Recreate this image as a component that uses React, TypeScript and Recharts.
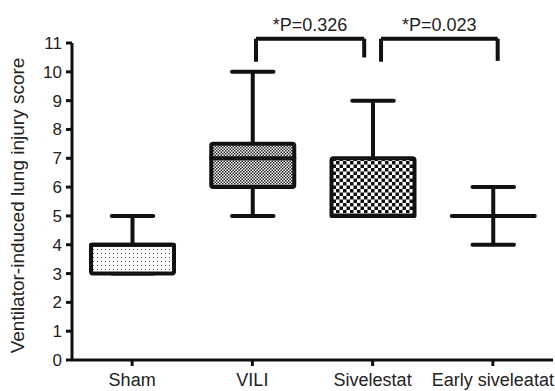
import { ComposedChart, Bar, XAxis, YAxis, ReferenceLine, Label } from 'recharts';

const categories = ['Sham', 'VILI', 'Sivelestat', 'Early siveleatat'];
const minValues = [3, 5, 5, 4];
const q1Values = [3, 6, 5, 5];
const medianValues = [4, 7, 5, 5];
const q3Values = [4, 7.5, 7, 5];
const maxValues = [5, 10, 9, 6];
const fills = ['url(#dots)', 'url(#fineCheck)', 'url(#coarseCheck)', '#fff'];
const yTicks = [0, 1, 2, 3, 4, 5, 6, 7, 8, 9, 10, 11];

// significance brackets, x in category units (0..4), y in score units
const bracketLabels = ['*P=0.326', '*P=0.023'];
const bracketStart = [1.53, 2.57];
const bracketEnd = [2.43, 3.54];
const bracketTop = [11.15, 11.15];
const bracketLeftFoot = [10.35, 10.35];
const bracketRightFoot = [10.5, 10.38];

const data = categories.map((name, i) => ({
  name,
  pos: i + 0.5,
  min: minValues[i],
  q1: q1Values[i],
  median: medianValues[i],
  q3: q3Values[i],
  max: maxValues[i],
  fill: fills[i],
}));

const FONT = '"Liberation Sans", Arial, Helvetica, sans-serif';

const BoxShape = (props: any) => {
  const { x, y, width, height, payload } = props;
  const unit = height / (payload.max - payload.min);
  const toY = (v: number) => y + (payload.max - v) * unit;
  const cx = x + width / 2;
  const capHalf = width * 0.25;
  const yMax = toY(payload.max);
  const yMin = toY(payload.min);
  const yQ3 = toY(payload.q3);
  const yQ1 = toY(payload.q1);
  const yMed = toY(payload.median);
  const sw = 4;
  return (
    <g>
      <line x1={cx} x2={cx} y1={yMax} y2={yQ3} stroke="#111" strokeWidth={sw} />
      <line x1={cx} x2={cx} y1={yQ1} y2={yMin} stroke="#111" strokeWidth={sw} />
      <line x1={cx - capHalf} x2={cx + capHalf} y1={yMax} y2={yMax} stroke="#111" strokeWidth={sw} strokeLinecap="round" />
      <line x1={cx - capHalf} x2={cx + capHalf} y1={yMin} y2={yMin} stroke="#111" strokeWidth={sw} strokeLinecap="round" />
      {yQ1 - yQ3 > 0.5 ? (
        <rect x={x} y={yQ3} width={width} height={yQ1 - yQ3} fill={payload.fill} stroke="#111" strokeWidth={sw} rx={2} />
      ) : null}
      <line x1={x} x2={x + width} y1={yMed} y2={yMed} stroke="#111" strokeWidth={sw} strokeLinecap="round" />
    </g>
  );
};

export default function App() {
  return (
    <div style={{ position: 'absolute', left: 0, top: 0, fontFamily: FONT }}>
      <ComposedChart width={555} height={391} data={data} margin={{ top: 43, right: 2, left: 0, bottom: 0 }}>
        <defs>
          <pattern id="dots" width="4" height="4" patternUnits="userSpaceOnUse">
            <rect width="4" height="4" fill="#fff" />
            <rect x="1" y="1" width="1" height="1" fill="#555" />
          </pattern>
          <pattern id="fineCheck" width="3" height="3" patternUnits="userSpaceOnUse">
            <rect width="3" height="3" fill="#fff" />
            <rect x="0" y="0" width="1.5" height="1.5" fill="#222" />
            <rect x="1.5" y="1.5" width="1.5" height="1.5" fill="#222" />
          </pattern>
          <pattern id="coarseCheck" width="7" height="7" patternUnits="userSpaceOnUse">
            <rect width="7" height="7" fill="#fff" />
            <rect x="0" y="0" width="3.5" height="3.5" fill="#111" />
            <rect x="3.5" y="3.5" width="3.5" height="3.5" fill="#111" />
          </pattern>
        </defs>
        <XAxis
          dataKey="name"
          height={31}
          axisLine={{ stroke: '#111', strokeWidth: 3 }}
          tickLine={{ stroke: '#111', strokeWidth: 3 }}
          tickSize={6}
          tickMargin={7}
          interval={0}
          tick={{ fill: '#222', fontSize: 18, fontFamily: FONT }}
        />
        <XAxis xAxisId="b" dataKey="pos" type="number" domain={[0, 4]} hide allowDataOverflow />
        <YAxis
          type="number"
          domain={[0, 11]}
          ticks={yTicks}
          interval={0}
          width={72}
          axisLine={{ stroke: '#111', strokeWidth: 3 }}
          tickLine={{ stroke: '#111', strokeWidth: 3 }}
          tickSize={6}
          tickMargin={4}
          tick={{ fill: '#222', fontSize: 17, fontFamily: FONT }}
        >
          <Label
            value="Ventilator-induced lung injury score"
            angle={-90}
            position="center"
            dx={-19}
            dy={4}
            fill="#222"
            fontSize={19}
            fontFamily={FONT}
          />
        </YAxis>
        <Bar
          dataKey={(d: any) => [d.min, d.max]}
          barSize={83}
          shape={BoxShape}
          isAnimationActive={false}
        />
        {bracketLabels.map((label, i) => (
          <ReferenceLine
            key={`top-${i}`}
            xAxisId="b"
            ifOverflow="visible"
            segment={[
              { x: bracketStart[i], y: bracketTop[i] },
              { x: bracketEnd[i], y: bracketTop[i] },
            ]}
            stroke="#111"
            strokeWidth={4}
            label={{ value: label, position: 'top', offset: 8, fill: '#222', fontSize: 18, fontFamily: FONT }}
          />
        ))}
        {bracketLabels.map((label, i) => (
          <ReferenceLine
            key={`l-${i}`}
            xAxisId="b"
            ifOverflow="visible"
            segment={[
              { x: bracketStart[i], y: bracketTop[i] },
              { x: bracketStart[i], y: bracketLeftFoot[i] },
            ]}
            stroke="#111"
            strokeWidth={4}
          />
        ))}
        {bracketLabels.map((label, i) => (
          <ReferenceLine
            key={`r-${i}`}
            xAxisId="b"
            ifOverflow="visible"
            segment={[
              { x: bracketEnd[i], y: bracketTop[i] },
              { x: bracketEnd[i], y: bracketRightFoot[i] },
            ]}
            stroke="#111"
            strokeWidth={4}
          />
        ))}
      </ComposedChart>
    </div>
  );
}
